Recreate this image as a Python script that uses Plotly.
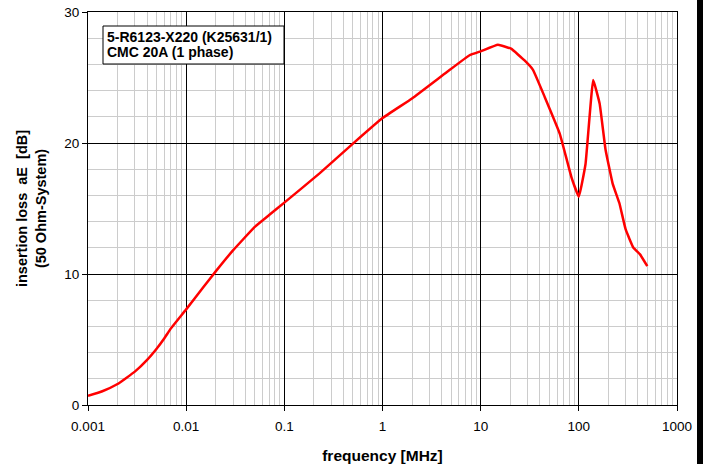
import plotly.graph_objects as go

freq_mhz = [0.001, 0.0014, 0.002, 0.003, 0.004, 0.005, 0.006, 0.007, 0.01, 0.015, 0.02, 0.03, 0.05, 0.07,
            0.1, 0.23, 0.5, 1.0, 2.0, 4.5, 7.7, 10, 15, 20.4, 28, 34, 45, 64, 84, 100,
            117, 140, 163, 187, 221, 259, 300, 360, 420, 498]
loss_db = [0.7, 1.05, 1.6, 2.55, 3.45, 4.3, 5.1, 5.85, 7.3, 9.0, 10.2, 11.8, 13.6, 14.5,
           15.45, 17.7, 19.95, 21.9, 23.4, 25.4, 26.7, 27.0, 27.5, 27.2, 26.3, 25.6, 23.5, 20.7, 17.4, 15.9,
           18.4, 24.8, 23.0, 19.5, 16.9, 15.4, 13.4, 12.0, 11.5, 10.6]

x_tickvals = [0.001, 0.01, 0.1, 1, 10, 100, 1000]
x_ticktext = ["0.001", "0.01", "0.1", "1", "10", "100", "1000"]
y_tickvals = [0, 10, 20, 30]
info_lines = ["5-R6123-X220 (K25631/1)", "CMC 20A (1 phase)"]

fig = go.Figure()
fig.add_trace(go.Scatter(x=freq_mhz, y=loss_db, mode="lines",
                         line=dict(color="#ff0000", width=2.5, shape="spline", smoothing=0.3),
                         showlegend=False, hoverinfo="skip"))

font_family = "Liberation Sans, Arial, sans-serif"
L, R, T, B = 88, 28, 12, 59
PW, PH = 705 - L - R, 464 - T - B


def px_x(p):
    return (p - L) / PW


def px_y(p):
    return (T + PH - p) / PH


annotations = []
for i, line in enumerate(info_lines):
    annotations.append(dict(xref="paper", yref="paper", x=px_x(105), y=px_y(37 + 15 * i),
                            xanchor="left", yanchor="middle", align="left", showarrow=False,
                            text="<b>" + line + "</b>", font=dict(size=14, color="black")))

fig.update_layout(
    width=705, height=464,
    margin=dict(l=L, r=R, t=T, b=B),
    paper_bgcolor="white", plot_bgcolor="white",
    font=dict(family=font_family, size=13.5, color="black"),
    xaxis=dict(type="log", range=[-3, 3], tickvals=x_tickvals, ticktext=x_ticktext,
               showgrid=True, gridcolor="#000000", gridwidth=1,
               minor=dict(dtick="D1", showgrid=True, gridcolor="#cccccc", gridwidth=1),
               showline=True, linecolor="black", linewidth=1, mirror=True,
               ticks="outside", ticklen=5, tickcolor="black", ticklabelstandoff=4,
               zeroline=False, automargin=False,
               title=dict(text="<b>frequency [MHz]</b>", font=dict(size=15.5), standoff=18)),
    yaxis=dict(range=[0, 30], tickvals=y_tickvals,
               showgrid=True, gridcolor="#000000", gridwidth=1,
               minor=dict(dtick=2, showgrid=True, gridcolor="#cccccc", gridwidth=1),
               showline=True, linecolor="black", linewidth=1, mirror=True,
               ticks="outside", ticklen=5, tickcolor="black",
               zeroline=False, automargin=False,
               title=dict(text="<b>insertion loss&nbsp; aE&nbsp; [dB]<br>(50 Ohm-System)</b>",
                          font=dict(size=14.5), standoff=14)),
    shapes=[dict(type="rect", xref="paper", yref="paper",
                 x0=px_x(697), x1=px_x(703), y0=px_y(466), y1=px_y(-2),
                 fillcolor="black", line=dict(width=0), layer="above"),
            dict(type="rect", xref="paper", yref="paper",
                 x0=px_x(103), x1=px_x(284), y0=px_y(64), y1=px_y(26),
                 fillcolor="white", line=dict(color="black", width=1), layer="above")],
    annotations=annotations,
)

fig.write_html("out.html", config={"displayModeBar": False},
               post_script="document.body.style.margin='0px';")
